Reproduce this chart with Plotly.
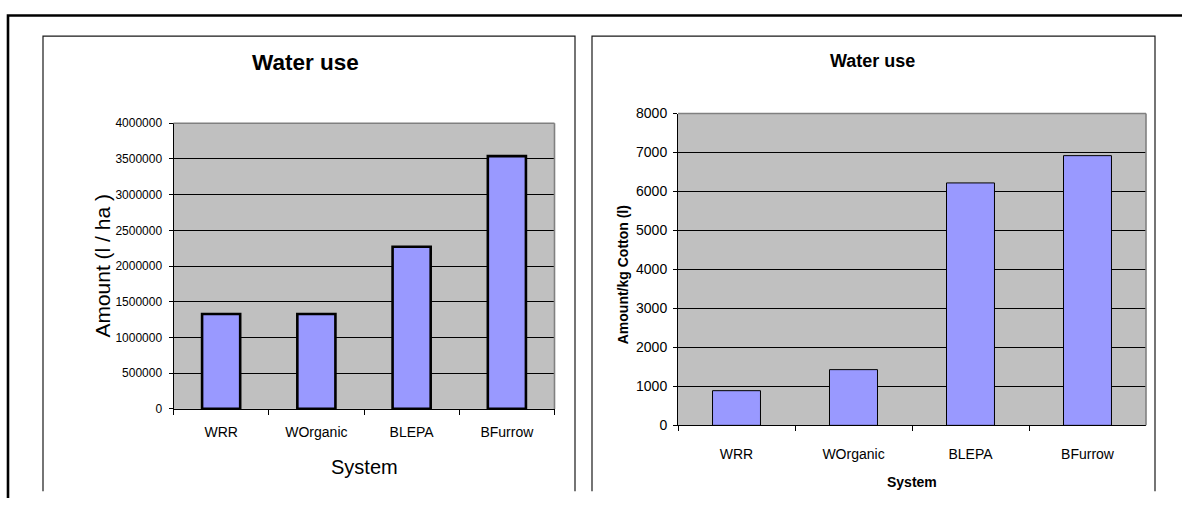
import plotly.graph_objects as go

# Irrigation systems compared in both panels
systems = ["WRR", "WOrganic", "BLEPA", "BFurrow"]

# Water applied per hectare (litres)
water_per_ha = [1330000, 1330000, 2270000, 3540000]
per_ha_ticks = [0, 500000, 1000000, 1500000, 2000000, 2500000, 3000000, 3500000, 4000000]

# Water used per kg of cotton produced (litres)
water_per_kg = [890, 1430, 6220, 6920]
per_kg_ticks = [0, 1000, 2000, 3000, 4000, 5000, 6000, 7000, 8000]

W, H = 1182, 506
FONT = "Arial, Liberation Sans, sans-serif"
BAR_FILL = "#9999FF"
PLOT_BG = "#C0C0C0"


def px(x):
    return x / W


def py(y):
    return 1 - y / H


# plot-area rectangles in pixel coordinates (left, top, right, bottom)
left_box = (173.5, 119, 554.5, 414)
right_box = (678, 109, 1146, 431)

fig = go.Figure()

fig.add_trace(go.Bar(
    x=systems, y=water_per_ha, width=0.4,
    marker=dict(color=BAR_FILL, line=dict(color="black", width=2.6)),
    xaxis="x", yaxis="y", showlegend=False,
))
fig.add_trace(go.Bar(
    x=systems, y=water_per_kg, width=0.41,
    marker=dict(color=BAR_FILL, line=dict(color="black", width=1)),
    xaxis="x2", yaxis="y2", showlegend=False,
))

common_x = dict(
    type="category", range=[-0.5, 3.5], tickson="boundaries",
    showline=True, linecolor="black", linewidth=1,
    ticks="outside", ticklen=5, tickcolor="black", tickwidth=1,
    showgrid=False, zeroline=False, fixedrange=True,
)
common_y = dict(
    showline=True, linecolor="black", linewidth=1,
    ticks="outside", ticklen=4, tickcolor="black", tickwidth=1,
    showgrid=True, gridcolor="black", gridwidth=1,
    zeroline=False, fixedrange=True, tickmode="array",
)

fig.update_layout(
    width=W, height=H,
    margin=dict(l=0, r=0, t=0, b=0),
    paper_bgcolor="white", plot_bgcolor=PLOT_BG,
    font=dict(family=FONT, color="black", size=13),
    xaxis=dict(common_x, domain=[px(left_box[0]), px(left_box[2])], anchor="y",
               tickfont=dict(size=14), ticklabelstandoff=10),
    yaxis=dict(common_y, domain=[py(left_box[3]), py(left_box[1])], anchor="x",
               range=[0, 4000000], tickvals=per_ha_ticks, tickformat="d",
               tickfont=dict(size=12), ticklabelstandoff=4),
    xaxis2=dict(common_x, domain=[px(right_box[0]), px(right_box[2])], anchor="y2",
                tickfont=dict(size=14), ticklabelstandoff=16),
    yaxis2=dict(common_y, domain=[py(right_box[3]), py(right_box[1])], anchor="x2",
                range=[0, 8000], tickvals=per_kg_ticks, tickformat="d",
                tickfont=dict(size=14), ticklabelstandoff=3),
)

shapes = []
# grey border on the top and right of each plot area
for (l, t, r, b) in (left_box, right_box):
    shapes.append(dict(type="line", xref="paper", yref="paper",
                       x0=px(l), x1=px(r), y0=py(t), y1=py(t),
                       line=dict(color="#808080", width=1.6)))
    shapes.append(dict(type="line", xref="paper", yref="paper",
                       x0=px(r), x1=px(r), y0=py(t), y1=py(b),
                       line=dict(color="#808080", width=1.6)))

# chart panels (open at the bottom)
for (l, r) in ((43, 575), (592, 1155)):
    shapes.append(dict(type="path", xref="paper", yref="paper",
                       path=f"M {px(l)} {py(499)} L {px(l)} {py(29)} L {px(r)} {py(29)} L {px(r)} {py(499)}",
                       line=dict(color="#1a1a1a", width=1.2)))

# outer page frame: top and left edges
shapes.append(dict(type="path", xref="paper", yref="paper",
                   path=f"M {px(8)} {py(506)} L {px(8)} {py(7.8)} L {px(1182)} {py(7.8)}",
                   line=dict(color="black", width=2.6)))

fig.update_layout(shapes=shapes)

annotations = [
    # panel titles
    dict(text="<b>Water use</b>", x=px(305), y=py(56), font=dict(size=22.5)),
    dict(text="<b>Water use</b>", x=px(872), y=py(55), font=dict(size=18)),
    # left panel axis titles
    dict(text="Amount (l / ha )", x=px(103), y=py(266), textangle=-90, font=dict(size=21)),
    dict(text="System", x=px(364), y=py(474), font=dict(size=20)),
    # right panel axis titles
    dict(text="<b>Amount/kg Cotton (l)</b>", x=px(623), y=py(276), textangle=-90, font=dict(size=14)),
    dict(text="<b>System</b>", x=px(912), y=py(489), font=dict(size=14)),
]
for a in annotations:
    a.update(xref="paper", yref="paper", showarrow=False,
             xanchor="center", yanchor="middle")
fig.update_layout(annotations=annotations)

fig.write_html("out.html")
